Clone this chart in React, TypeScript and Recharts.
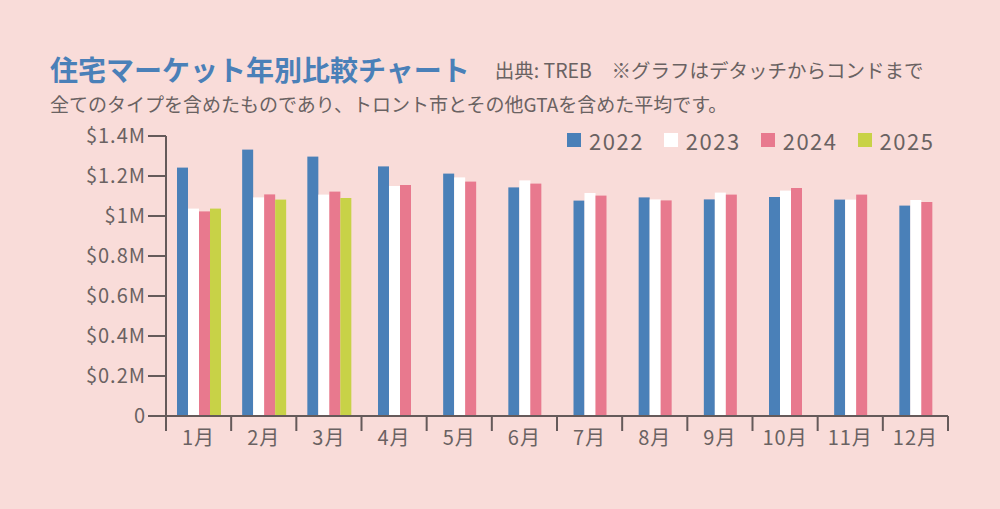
import React from "react";
import { BarChart, Bar, XAxis, YAxis } from "recharts";

const months = ["1月", "2月", "3月", "4月", "5月", "6月", "7月", "8月", "9月", "10月", "11月", "12月"];
const y2022 = [1242000, 1332000, 1297000, 1248000, 1212000, 1143000, 1077000, 1093000, 1083000, 1095000, 1082000, 1052000];
const y2023 = [1037000, 1093000, 1107000, 1150000, 1193000, 1178000, 1115000, 1083000, 1117000, 1127000, 1082000, 1080000];
const y2024 = [1023000, 1108000, 1122000, 1155000, 1172000, 1162000, 1102000, 1078000, 1107000, 1140000, 1107000, 1070000];
const y2025 = [1037000, 1082000, 1090000, null, null, null, null, null, null, null, null, null];
const yTicks = [0, 200000, 400000, 600000, 800000, 1000000, 1200000, 1400000];

const series = [
  { key: "y2022", name: "2022", color: "#4a80b8" },
  { key: "y2023", name: "2023", color: "#ffffff" },
  { key: "y2024", name: "2024", color: "#e8798e" },
  { key: "y2025", name: "2025", color: "#c8d247" },
];

const data = months.map((m, i) => ({
  month: m,
  y2022: y2022[i],
  y2023: y2023[i],
  y2024: y2024[i],
  y2025: y2025[i],
}));

const BG = "#f9dcd9";
const AXIS = "#655a5a";
const TEXT = "#6a6262";
const FONT = "'Noto Sans CJK JP', 'Noto Sans', sans-serif";

function formatY(v: number): string {
  if (v === 0) return "0";
  return `$${v / 1000000}M`;
}

// months without a 2025 value draw 3 bars, so shift them to stay centred
function shiftedBar(props: any) {
  const { x, y, width, height, fill, payload } = props;
  if (height == null || height <= 0) return <g />;
  const dx = payload && payload.y2025 == null ? width / 2 : 0;
  return <rect x={x + dx} y={y} width={width} height={height} fill={fill} />;
}

// month label plus tick marks on the band edges
function MonthTick(props: any) {
  const { x, y, payload, index, visibleTicksCount } = props;
  const half = payload.offset || 0;
  const last = index === visibleTicksCount - 1;
  return (
    <g>
      <line x1={x - half} x2={x - half} y1={y} y2={y + 15} stroke={AXIS} strokeWidth={2} />
      {last && <line x1={x + half} x2={x + half} y1={y} y2={y + 15} stroke={AXIS} strokeWidth={2} />}
      <text x={x} y={y + 29} textAnchor="middle" fontSize={20} fill={TEXT} fontFamily={FONT} letterSpacing={1}>
        {payload.value}
      </text>
    </g>
  );
}

function LegendBox() {
  return (
    <div style={{ display: "flex", gap: 20, fontFamily: FONT, fontSize: 22, color: TEXT, letterSpacing: 1.5 }}>
      {series.map((s) => (
        <div key={s.key} style={{ display: "flex", alignItems: "center", gap: 8 }}>
          <span style={{ width: 14, height: 14, background: s.color, display: "inline-block" }} />
          <span style={{ lineHeight: "26px" }}>{s.name}</span>
        </div>
      ))}
    </div>
  );
}

export default function App() {
  return (
    <div style={{ position: "absolute", left: 0, top: 0, width: 1000, height: 509, background: BG, overflow: "hidden" }}>
      <div style={{ position: "absolute", left: 50, top: 54, fontFamily: FONT, whiteSpace: "nowrap", display: "flex" }}>
        <div style={{ height: 30, lineHeight: "30px", fontSize: 28, fontWeight: 700, color: "#4a80b8" }}>
          住宅マーケット年別比較チャート
        </div>
        <div style={{ height: 30, lineHeight: "32px", fontSize: 19.5, color: TEXT, marginLeft: 25 }}>
          出典: TREB　※グラフはデタッチからコンドまで
        </div>
      </div>
      <div style={{ position: "absolute", left: 50, top: 93, height: 22, fontFamily: FONT, fontSize: 19, color: TEXT, whiteSpace: "nowrap", lineHeight: "22px" }}>
        全てのタイプを含めたものであり、トロント市とその他GTAを含めた平均です。
      </div>
      <BarChart
        width={1000}
        height={509}
        data={data}
        margin={{ top: 136, right: 52, left: 86, bottom: 63 }}
        barGap={0}
        barSize={11}
        style={{ position: "absolute", left: 0, top: 0 }}
      >
        <XAxis
          dataKey="month"
          axisLine={{ stroke: AXIS, strokeWidth: 2 }}
          tickLine={false}
          tickSize={0}
          tickMargin={0}
          tick={<MonthTick />}
          interval={0}
          height={30}
        />
        <YAxis
          domain={[0, 1400000]}
          ticks={yTicks}
          tickFormatter={formatY}
          axisLine={{ stroke: AXIS, strokeWidth: 2 }}
          tickLine={{ stroke: AXIS, strokeWidth: 2 }}
          tickSize={18}
          tick={{ fontSize: 20, fill: TEXT, fontFamily: FONT, letterSpacing: 1 }}
          width={80}
        />
        {series.map((s) => (
          <Bar
            key={s.key}
            dataKey={s.key}
            name={s.name}
            fill={s.color}
            shape={shiftedBar}
            isAnimationActive={false}
          />
        ))}
      </BarChart>
      <div style={{ position: "absolute", left: 567, top: 127 }}>
        <LegendBox />
      </div>
    </div>
  );
}
